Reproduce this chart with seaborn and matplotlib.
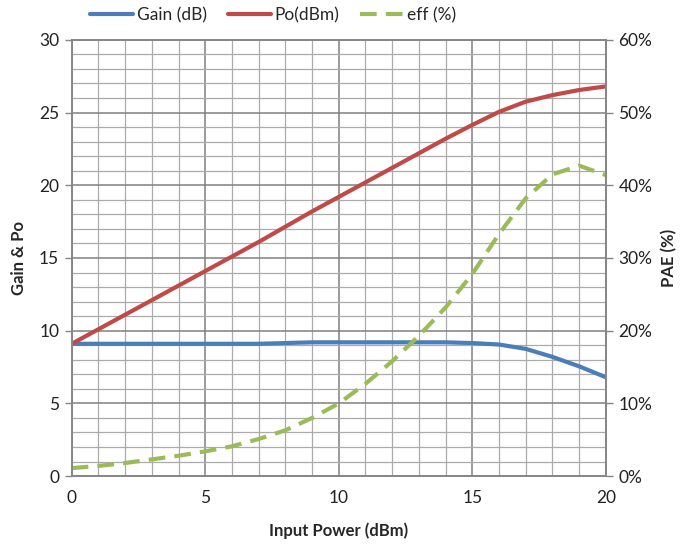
import numpy as np
import pandas as pd
import matplotlib
matplotlib.use("Agg")
import matplotlib.pyplot as plt
from matplotlib.ticker import MultipleLocator, FuncFormatter
import seaborn as sns

sns.set_theme(style="white")
plt.rcParams["font.family"] = ["Lato", "DejaVu Sans"]

pin = list(range(0, 21))
gain = [9.1, 9.1, 9.1, 9.1, 9.1, 9.1, 9.1, 9.1, 9.15, 9.2, 9.2,
        9.2, 9.2, 9.2, 9.2, 9.15, 9.05, 8.75, 8.2, 7.55, 6.8]
po = [9.1, 10.1, 11.1, 12.1, 13.1, 14.1, 15.1, 16.1, 17.15, 18.2, 19.2,
      20.2, 21.2, 22.2, 23.2, 24.15, 25.05, 25.75, 26.2, 26.55, 26.8]
eff = [1.1, 1.4, 1.8, 2.3, 2.8, 3.4, 4.1, 5.1, 6.3, 8.0, 10.0,
       12.7, 15.8, 19.3, 23.2, 27.8, 33.3, 38.2, 41.5, 42.7, 41.4]

df = pd.DataFrame({"pin": pin, "gain": gain, "po": po, "eff": eff})

blue = "#4a7ebb"
red = "#be4b48"
green = "#9bbb59"

fig = plt.figure(figsize=(6.83, 5.46), dpi=100)
ax = fig.add_axes([0.105, 0.128, 0.782, 0.799])
ax2 = ax.twinx()

# grid first
ax.set_xlim(0, 20)
ax.set_ylim(0, 30)
ax2.set_ylim(0, 60)
ax.xaxis.set_major_locator(MultipleLocator(5))
ax.xaxis.set_minor_locator(MultipleLocator(1))
ax.yaxis.set_major_locator(MultipleLocator(5))
ax.yaxis.set_minor_locator(MultipleLocator(1))
ax2.yaxis.set_major_locator(MultipleLocator(10))
ax.grid(which="minor", color="#ababab", lw=0.9)
ax.grid(which="major", color="#808080", lw=1.1)
ax.set_axisbelow(True)

sns.lineplot(data=df, x="pin", y="gain", ax=ax, color=blue, lw=3,
             label="Gain (dB)", legend=False)
sns.lineplot(data=df, x="pin", y="po", ax=ax, color=red, lw=3,
             label="Po(dBm)", legend=False)
sns.lineplot(data=df, x="pin", y="eff", ax=ax2, color=green, lw=3,
             dashes=False, label="eff (%)", legend=False)
ax2.lines[0].set_dashes((4, 2.2))

ax2.yaxis.set_major_formatter(FuncFormatter(lambda v, p: f"{v:.0f}%"))

for a in (ax, ax2):
    for s in a.spines.values():
        s.set_color("#868686")
    a.tick_params(which="major", length=5, width=1, color="#868686",
                  labelsize=12.5, labelcolor="#222222", direction="out")
    a.tick_params(which="minor", length=0)
ax.tick_params(axis="x", pad=5)
ax.tick_params(axis="y", pad=4)
ax2.tick_params(axis="y", pad=4)

ax.set_xlabel("Input Power (dBm)", fontsize=12, fontweight="bold", labelpad=12)
ax.set_ylabel("Gain & Po", fontsize=12, fontweight="bold", labelpad=9)
ax2.set_ylabel("PAE (%)", fontsize=12, fontweight="bold", labelpad=6)

h1, l1 = ax.get_legend_handles_labels()
h2, l2 = ax2.get_legend_handles_labels()
fig.legend(h1 + h2, l1 + l2, loc="upper center", bbox_to_anchor=(0.40, 1.015),
           ncol=3, frameon=False, fontsize=12.5, handlelength=2.5,
           columnspacing=1.2, handletextpad=0.2)

fig.savefig("out.png", dpi=100)
